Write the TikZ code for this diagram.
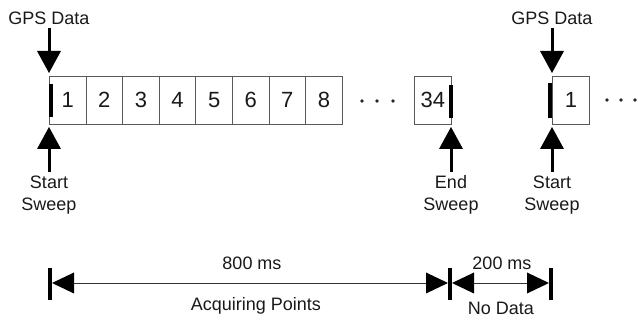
\documentclass[tikz,border=0pt]{standalone}
\usepackage{fontspec}
\setmainfont{Liberation Sans}
\usetikzlibrary{arrows.meta}
\begin{document}
\begin{tikzpicture}[x=1pt,y=-1pt,
  cell/.style={draw=black!65, line width=0.9pt, minimum width=36.6pt, minimum height=48pt, inner sep=0pt, font=\fontsize{22}{24}\selectfont, text=black!90, anchor=west},
  lbl/.style={font=\fontsize{18}{22}\selectfont, text=black!90, align=center, inner sep=0pt},
  bigarrow/.style={line width=3pt, black, -{Triangle[width=24pt,length=22pt,line width=0pt]}},
  sweepbar/.style={line width=4pt, black},
  dimline/.style={line width=0.8pt, black!80, {Triangle[width=21pt,length=22pt,line width=0pt,fill=black,color=black]}-{Triangle[width=21pt,length=22pt,line width=0pt,fill=black,color=black]}},
  dotn/.style={circle, fill=black!85, inner sep=0pt, minimum size=3.8pt}]
\useasboundingbox (0,0) rectangle (638,320);
% cells
\foreach \i in {1,...,8} \node[cell] (c\i) at ({49+(\i-1)*36.6},100) {\i};
\node[cell, minimum width=37pt] (c34) at (414,100) {34};
\node[cell, minimum width=37pt] (d1) at (552,100) {1};
% sweep bars
\draw[sweepbar] (50.5,84) -- (50.5,117);
\draw[sweepbar] (450.5,85) -- (450.5,118);
\draw[sweepbar] (550,83) -- (550,118);
% dots
\node[dotn] (e1) at (362,101) {};
\node[dotn] (e2) at (377,101) {};
\node[dotn] (e3) at (393,101) {};
\node[dotn] (f1) at (607,100) {};
\node[dotn] (f2) at (621,100) {};
\node[dotn] (f3) at (635,100) {};
% GPS data
\node[lbl] (gps1) at (49,18) {GPS Data};
\node[lbl] (gps2) at (552,18) {GPS Data};
\coordinate (g1s) at (49,28); \coordinate (g1t) at (49,73);
\coordinate (g2s) at (552,28); \coordinate (g2t) at (552,73);
\draw[bigarrow] (g1s) -- (g1t);
\draw[bigarrow] (g2s) -- (g2t);
% sweep labels
\node[lbl] (ss1) at (49,195) {Start\\Sweep};
\node[lbl] (es) at (451,195) {End\\Sweep};
\node[lbl] (ss2) at (552,195) {Start\\Sweep};
\coordinate (s1s) at (49,172); \coordinate (s1t) at (49,127);
\coordinate (s2s) at (451,172); \coordinate (s2t) at (451,127);
\coordinate (s3s) at (552,172); \coordinate (s3t) at (552,127);
\draw[bigarrow] (s1s) -- (s1t);
\draw[bigarrow] (s2s) -- (s2t);
\draw[bigarrow] (s3s) -- (s3t);
% timeline
\draw[sweepbar] (50,268) -- (50,300);
\draw[sweepbar] (450,268) -- (450,300);
\draw[sweepbar] (551,268) -- (551,300);
\coordinate (t1) at (52,283); \coordinate (t2) at (448,283);
\coordinate (t3) at (452,283); \coordinate (t4) at (549,283);
\draw[dimline] (t1) -- (t2);
\draw[dimline] (t3) -- (t4);
\node[lbl] (l800) at (252,263) {800 ms};
\node[lbl] (lacq) at (256,306) {Acquiring Points};
\node[lbl] (l200) at (502,263) {200 ms};
\node[lbl] (lno) at (501,308) {No Data};
\end{tikzpicture}
\end{document}
